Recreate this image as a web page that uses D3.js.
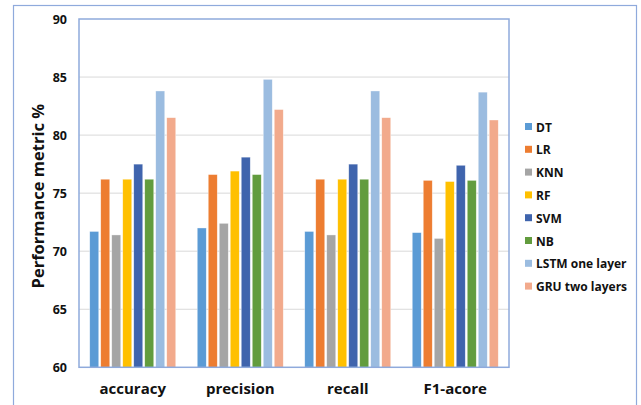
<!DOCTYPE html>
<html><head><meta charset="utf-8">
<script src="https://cdn.jsdelivr.net/npm/d3@7"></script>
<style>body{margin:0;background:#fff}svg{display:block}text{font-family:"Open Sans","Noto Sans",sans-serif;font-weight:bold;fill:#111}</style>
</head><body><svg id="c" width="641" height="405"></svg>
<script>
const categories = ["accuracy","precision","recall","F1-acore"];
const seriesNames = ["DT","LR","KNN","RF","SVM","NB","LSTM one layer","GRU two layers"];
const DT   = [71.7, 72.0, 71.7, 71.6];
const LR   = [76.2, 76.6, 76.2, 76.1];
const KNN  = [71.4, 72.4, 71.4, 71.1];
const RF   = [76.2, 76.9, 76.2, 76.0];
const SVM  = [77.5, 78.1, 77.5, 77.4];
const NB   = [76.2, 76.6, 76.2, 76.1];
const LSTM = [83.8, 84.8, 83.8, 83.7];
const GRU  = [81.5, 82.2, 81.5, 81.3];
const yTicks = [60,65,70,75,80,85,90];
const colors = ["#5B9BD5","#ED7D31","#A5A5A5","#FFC000","#3F64AD","#629C3E","#9BBCE0","#F2AA8C"];
const seriesValues = [DT,LR,KNN,RF,SVM,NB,LSTM,GRU];

const svg = d3.select("#c");
svg.append("rect").attr("x",13.5).attr("y",5.5).attr("width",623).attr("height",410)
  .attr("fill","none").attr("stroke","#8FAADC").attr("stroke-width",1.2);

const L=79, R=509, T=19, B=367.3;
const x0 = d3.scaleBand().domain(categories).range([L,R]).paddingInner(0).paddingOuter(0);
const x1 = d3.scaleBand().domain(d3.range(8)).range([9.75, x0.bandwidth()-9.75]).padding(0);
const y = d3.scaleLinear().domain([60,90]).range([B,T]);

const g = svg.append("g");
g.selectAll("line.grid").data(yTicks.slice(1,-1)).join("line")
  .attr("x1",L).attr("x2",R).attr("y1",d=>y(d)).attr("y2",d=>y(d))
  .attr("stroke","#D9D9D9").attr("stroke-width",1);

const groups = g.selectAll("g.cat").data(categories).join("g")
  .attr("transform",d=>`translate(${x0(d)},0)`);
groups.selectAll("rect").data((c,ci)=>seriesValues.map((s,si)=>({si,v:s[ci]}))).join("rect")
  .attr("x",d=>x1(d.si)+1).attr("width",x1.bandwidth()-2)
  .attr("y",d=>y(d.v)).attr("height",d=>B-y(d.v))
  .attr("fill",d=>colors[d.si]).attr("stroke","#fff").attr("stroke-width",0.6).attr("stroke-opacity",0.6);

svg.append("rect").attr("x",L).attr("y",T).attr("width",R-L).attr("height",B-T)
  .attr("fill","none").attr("stroke","#8FAADC").attr("stroke-width",1.5);

const ya = svg.append("g").attr("transform",`translate(${L},0)`)
  .call(d3.axisLeft(y).tickValues(yTicks).tickSize(0).tickPadding(12));
ya.select(".domain").remove();
ya.selectAll("text").style("font-size","12.5px").style("font-family","'Open Sans',sans-serif").style("font-weight","bold").attr("fill","#111");

const xa = svg.append("g").attr("transform",`translate(0,${B})`)
  .call(d3.axisBottom(x0).tickSize(0).tickPadding(16));
xa.select(".domain").remove();
xa.selectAll("text").style("font-size","15px").style("font-family","'Open Sans',sans-serif").style("font-weight","bold").attr("fill","#111");

svg.append("text").attr("transform",`translate(44,${(T+B)/2+3}) rotate(-90)`)
  .attr("text-anchor","middle").style("font-size","16.5px").text("Performance metric %");

const lg = svg.append("g").attr("transform","translate(525,127)");
const items = lg.selectAll("g").data(seriesNames).join("g").attr("transform",(d,i)=>`translate(0,${i*22.8})`);
items.append("rect").attr("x",0).attr("y",-4).attr("width",7).attr("height",7).attr("fill",(d,i)=>colors[i]);
items.append("text").attr("x",11).attr("y",4.5).style("font-size","12px").text(d=>d);
</script></body></html>
